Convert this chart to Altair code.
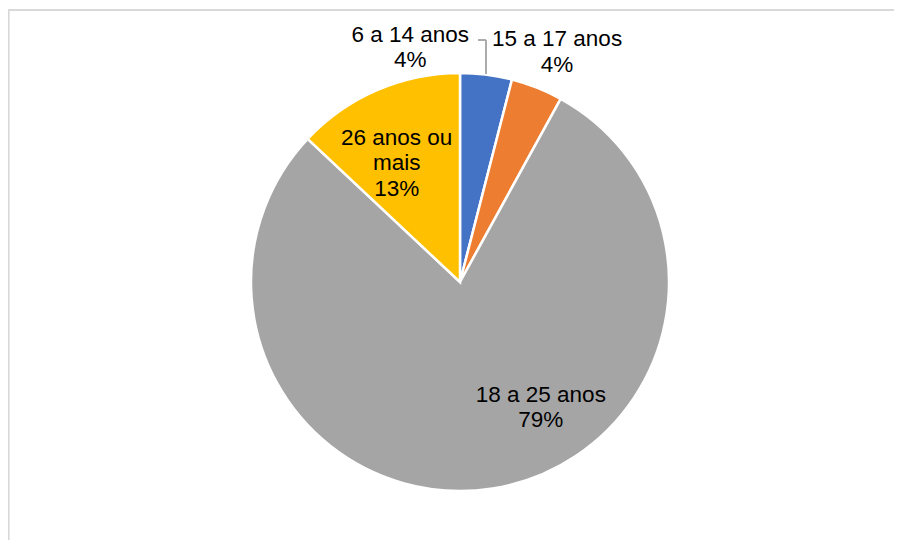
import altair as alt
import pandas as pd

# Data
categories = ["6 a 14 anos", "15 a 17 anos", "18 a 25 anos", "26 anos ou mais"]
values = [4, 4, 79, 13]
label_names = ["6 a 14 anos", "15 a 17 anos", "18 a 25 anos", "26 anos ou\nmais"]
colors = ["#4472C4", "#ED7D31", "#A5A5A5", "#FFC000"]

df = pd.DataFrame({
    "cat": categories,
    "value": values,
    "order": list(range(len(categories))),
    "label": [f"{n}\n{v}%" for n, v in zip(label_names, values)],
})

W, H = 886, 532
CX, CY, R = 452, 274, 209
FONT = "Liberation Sans"
FS = 22.5

base = alt.Chart(df).encode(
    theta=alt.Theta("value:Q", stack=True),
    order=alt.Order("order:Q"),
    x=alt.value(CX),
    y=alt.value(CY),
)

arcs = base.mark_arc(radius=R, stroke="white", strokeWidth=2.5).encode(
    color=alt.Color("cat:N", scale=alt.Scale(domain=categories, range=colors), legend=None)
)

# label placement styles (radius, dx, dy) per category; anchor = first line
label_style = {
    "6 a 14 anos": (249, -81, 0),
    "15 a 17 anos": (261, 1, 0),
    "18 a 25 anos": (114, 63, 0),
    "26 anos ou mais": (157, -1, 0),
}

text_layers = []
for cat in categories:
    r, dx, dy = label_style[cat]
    t = base.mark_text(
        radius=r, dx=dx, dy=dy, font=FONT, fontSize=FS, lineBreak="\n",
        lineHeight=25.5, color="#000000", align="center", baseline="middle",
    ).encode(text=alt.Text("t:N")).transform_calculate(
        t=f"datum.cat == '{cat}' ? datum.label : ''"
    )
    text_layers.append(t)

leader_v = alt.Chart(df).mark_rule(color="#A6A6A6", strokeWidth=1).encode(
    x=alt.value(478), y=alt.value(66), y2=alt.value(32)
)
leader_h = alt.Chart(df).mark_rule(color="#A6A6A6", strokeWidth=1).encode(
    x=alt.value(470), x2=alt.value(478), y=alt.value(32)
)

frame_top = alt.Chart(df).mark_rule(color="#D9D9D9", strokeWidth=1.5).encode(
    x=alt.value(0), x2=alt.value(W), y=alt.value(2)
)
frame_left = alt.Chart(df).mark_rule(color="#D9D9D9", strokeWidth=1.5).encode(
    x=alt.value(0.5), y=alt.value(2), y2=alt.value(H)
)

chart = alt.layer(
    frame_top, frame_left, arcs, leader_v, leader_h, *text_layers
).properties(
    width=W, height=H, padding=0, autosize="none", background="white"
).configure_view(stroke=None)

chart.save("out.html", embed_options={"renderer": "svg", "actions": False})
